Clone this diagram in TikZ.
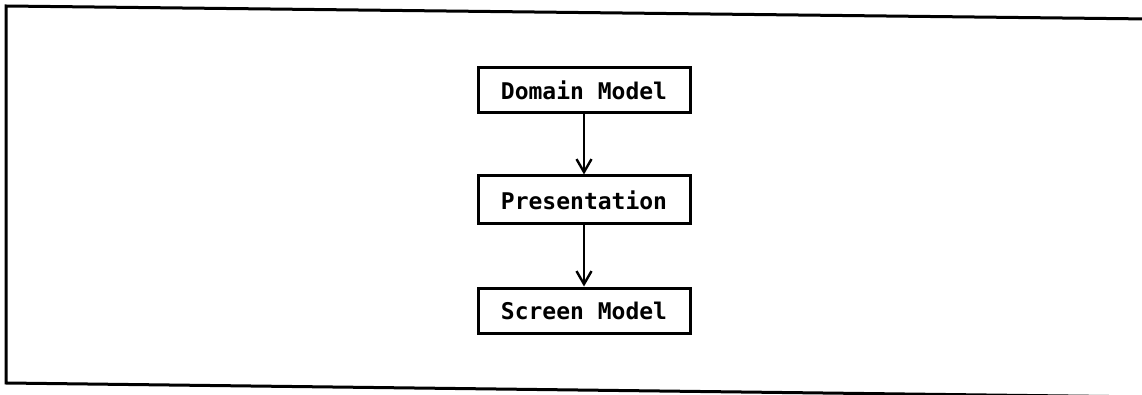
\documentclass[tikz,border=0pt]{standalone}
\usepackage{fontspec}
\newfontfamily\plotfont{DejaVu Sans Mono}
\usetikzlibrary{arrows.meta}
\tikzset{
  layer/.style={draw=black, line width=3pt, minimum width=212pt, inner sep=0pt,
    font=\plotfont\bfseries\fontsize{23}{27}\selectfont, text=black},
  flow/.style={draw=black, line width=2.4pt,
    -{Straight Barb[length=13pt,width=15pt,line width=2.4pt]}},
  frame/.style={draw=black, line width=3pt, line cap=rect}
}
\begin{document}
\begin{tikzpicture}[x=1pt,y=-1pt]
\useasboundingbox[fill=white] (0,0) rectangle (1142,395);
% outer frame, open on the right
\coordinate (tl) at (6,6);
\coordinate (tr) at (1150,19);
\coordinate (bl) at (6,383);
\coordinate (br) at (1150,397);
\draw[frame] (tr) -- (tl) -- (bl) -- (br);
% the three layers
\node[layer, minimum height=45pt] (dom) at (584,90.5) {Domain Model};
\node[layer, minimum height=48pt] (pres) at (584,200) {Presentation};
\node[layer, minimum height=45pt] (scr) at (584,310.5) {Screen Model};
\draw[flow] (dom.south) -- (pres.north);
\draw[flow] (pres.south) -- (scr.north);
\end{tikzpicture}
\end{document}
